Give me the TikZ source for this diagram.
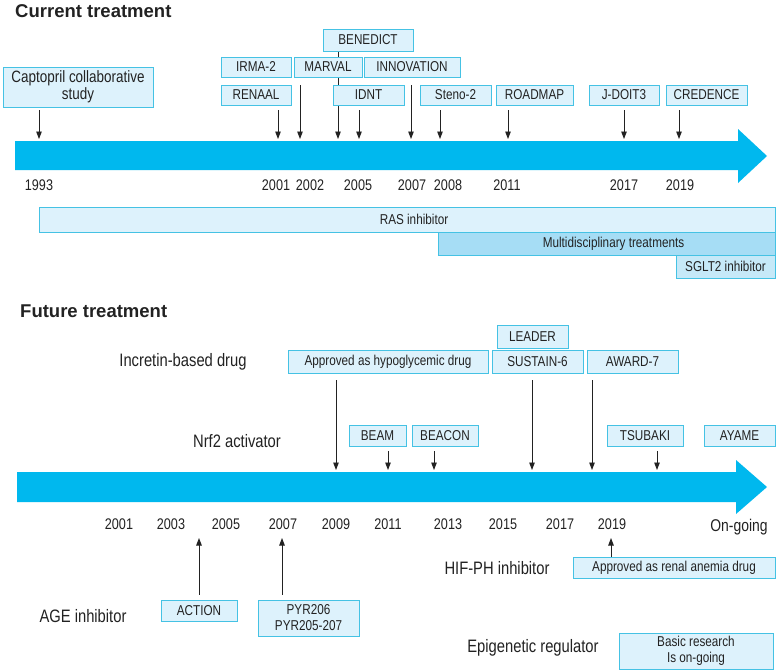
\documentclass[tikz,border=0pt]{standalone}
\usepackage{fontspec}
\setmainfont{Liberation Sans}[FakeStretch=0.82]
\newfontfamily\titlefont{Liberation Sans}
\usetikzlibrary{arrows.meta,calc}
\definecolor{barc}{HTML}{00B8EE}
\definecolor{bord}{HTML}{45C2E4}
\definecolor{bfill}{HTML}{DDF2FC}
\definecolor{mfill}{HTML}{A6DDF5}
\definecolor{sfill}{HTML}{C6E9F8}
\definecolor{ink}{HTML}{222222}
\pgfdeclarelayer{bg}\pgfsetlayers{bg,main}
\tikzset{
  bx/.style={draw=bord, fill=bfill, line width=0.9pt, inner sep=0pt, align=center, text=ink, font=\fontsize{14.3}{16}\selectfont},
  arr/.style={draw=ink, line width=0.9pt, -{Triangle[length=7.5pt,width=5.5pt]}},
  yr/.style={font=\fontsize{15.4}{17}\selectfont, text=ink, inner sep=0pt},
  lab/.style={font=\fontsize{18}{20}\selectfont, text=ink, inner sep=0pt},
  ttl/.style={font=\titlefont\bfseries\fontsize{18.5}{20}\selectfont, text=ink, inner sep=0pt, anchor=base west},
  bigarrow/.style={fill=barc, draw=none}
}
% \mybox{name}{x1}{y1}{x2}{y2}{text}
\newcommand\mybox[7][]{%
  \node[bx,#1, minimum width={(#5-#3)*1pt}, minimum height={(#6-#4)*1pt}] (#2) at ({(#3+#5)/2},{(#4+#6)/2}) {#7};}
% \darr{node}{x}{gap}{yend}
\newcommand\darr[4]{%
  \coordinate (#1-t) at (#2,#4);
  \begin{pgfonlayer}{bg}
  \draw[arr] ($(#1.south -| #1-t)+(0,#3)$) -- (#1-t);
  \end{pgfonlayer}}
\newcommand\uarr[4]{%
  \coordinate (#1-t) at (#2,#4);
  \begin{pgfonlayer}{bg}
  \draw[arr] ($(#1.north -| #1-t)+(0,-#3)$) -- (#1-t);
  \end{pgfonlayer}}
\begin{document}
\begin{tikzpicture}[x=1pt,y=-1pt]
\useasboundingbox (0,0) rectangle (776,670);
\begin{pgfonlayer}{bg}
\fill[white] (0,0) rectangle (776,670);
\end{pgfonlayer}

% ---------- Current treatment ----------
\node[ttl] (t1) at (15,17) {Current treatment};
\fill[bigarrow] (15,141) -- (738,141) -- (738,129) -- (767,156) -- (738,183) -- (738,170) -- (15,170) -- cycle;

\mybox[font=\fontsize{16.4}{16.5}\selectfont]{cap}{3}{67}{153}{107}{Captopril collaborative\\study}
\mybox{irma}{221}{57}{291}{77}{IRMA-2}
\mybox{ren}{221}{85}{291}{105}{RENAAL}
\mybox{mar}{294}{57}{362}{77}{MARVAL}
\mybox{ben}{323}{29}{413}{51}{BENEDICT}
\mybox{inn}{364}{57}{460}{77}{INNOVATION}
\mybox{idnt}{333}{85}{404}{105}{IDNT}
\mybox{ste}{420}{85}{491}{105}{Steno-2}
\mybox{road}{496}{85}{573}{105}{ROADMAP}
\mybox{jd}{589}{85}{659}{105}{J-DOIT3}
\mybox{cre}{666}{85}{747}{105}{CREDENCE}

\darr{cap}{39}{3}{139}
\darr{ren}{278}{5}{139}
\darr{mar}{300}{8}{139}
\darr{ben}{338}{0}{139}
\darr{idnt}{359}{5}{139}
\darr{inn}{411}{8}{139}
\darr{ste}{440}{5}{139}
\darr{road}{508}{5}{139}
\darr{jd}{624}{5}{139}
\darr{cre}{679}{5}{139}

\node[yr] (a1993) at (39,185) {1993};
\node[yr] (a2001) at (276,185) {2001};
\node[yr] (a2002) at (310,185) {2002};
\node[yr] (a2005) at (358,185) {2005};
\node[yr] (a2007) at (412,185) {2007};
\node[yr] (a2008) at (448,185) {2008};
\node[yr] (a2011) at (507,185) {2011};
\node[yr] (a2017) at (624,185) {2017};
\node[yr] (a2019) at (680,185) {2019};

\mybox{ras}{39}{207}{775}{232}{\hspace*{14pt}RAS inhibitor}
\mybox[fill=mfill]{mul}{438}{232}{775}{255}{\hspace*{14pt}Multidisciplinary treatments}
\mybox[fill=sfill]{sglt}{676}{255}{775}{278}{SGLT2 inhibitor}

% ---------- Future treatment ----------
\node[ttl] (t2) at (20,317) {Future treatment};
\fill[bigarrow] (17,472) -- (736,472) -- (736,460) -- (767,487) -- (736,514) -- (736,502) -- (17,502) -- cycle;

\node[lab] (incr) at (183,362) {Incretin-based drug};
\node[lab] (nrf) at (237,441) {Nrf2 activator};
\node[lab] (age) at (83,616) {AGE inhibitor};
\node[lab] (hifl) at (497,568) {HIF-PH inhibitor};
\node[lab] (epi) at (533,648) {Epigenetic regulator};

\mybox{hypo}{288}{350}{488}{373}{Approved as hypoglycemic drug}
\mybox{lead}{497}{325}{568}{348}{LEADER}
\mybox{sus}{492}{350}{583}{373}{SUSTAIN-6}
\mybox{awd}{587}{350}{678}{373}{AWARD-7}
\mybox{beam}{349}{425}{406}{446}{BEAM}
\mybox{beac}{412}{425}{478}{446}{BEACON}
\mybox{tsu}{607}{425}{683}{446}{TSUBAKI}
\mybox{aya}{704}{425}{775}{446}{AYAME}
\mybox{act}{161}{600}{237}{621}{ACTION}
\mybox{pyr}{258}{600}{359}{636}{PYR206\\PYR205-207}
\mybox{hif}{573}{557}{775}{578}{Approved as renal anemia drug}
\mybox{basic}{619}{633}{773}{669}{Basic research\\Is on-going}

\darr{hypo}{336}{7}{470}
\darr{sus}{532}{7}{470}
\darr{awd}{592}{7}{470}
\darr{beam}{388}{5}{470}
\darr{beac}{434}{5}{470}
\darr{tsu}{657}{5}{470}
\uarr{act}{199}{5}{538}
\uarr{pyr}{282}{5}{538}
\uarr{hif}{611}{0}{538}

\node[yr] (b2001) at (119,524) {2001};
\node[yr] (b2003) at (171,524) {2003};
\node[yr] (b2005) at (226,524) {2005};
\node[yr] (b2007) at (283,524) {2007};
\node[yr] (b2009) at (336,524) {2009};
\node[yr] (b2011) at (388,524) {2011};
\node[yr] (b2013) at (448,524) {2013};
\node[yr] (b2015) at (503,524) {2015};
\node[yr] (b2017) at (560,524) {2017};
\node[yr] (b2019) at (612,524) {2019};
\node[lab, font=\fontsize{17}{19}\selectfont] (bon) at (739,527) {On-going};
\end{tikzpicture}
\end{document}
